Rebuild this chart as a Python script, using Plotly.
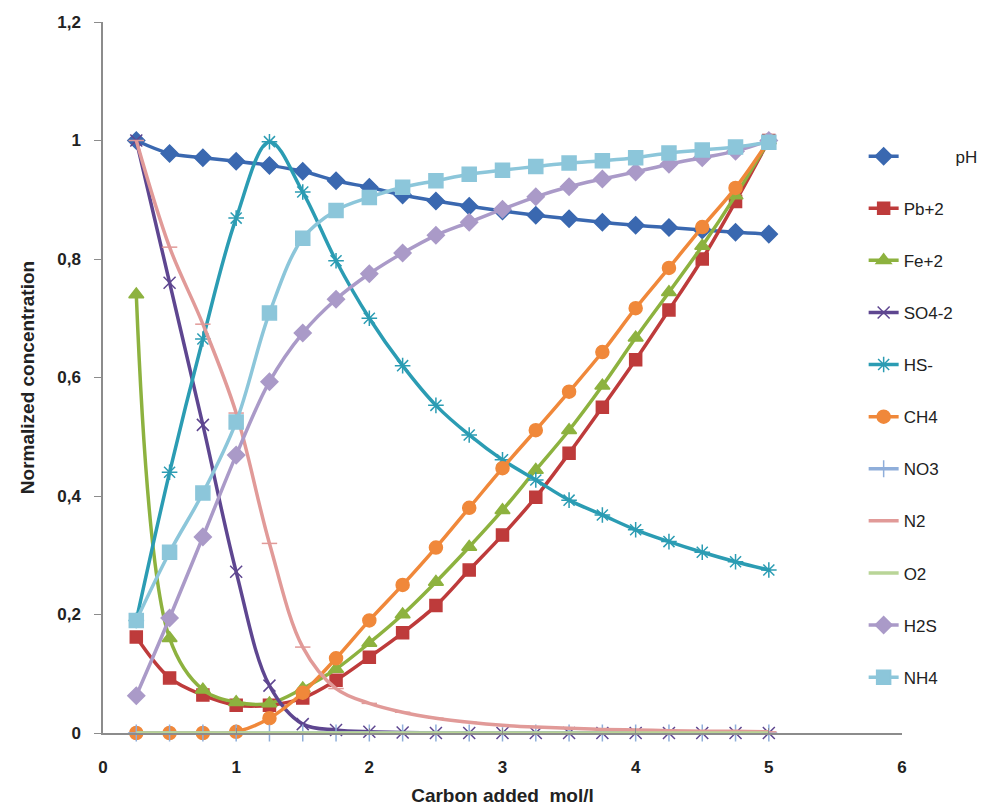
import plotly.graph_objects as go

carbon = [0.25, 0.5, 0.75, 1.0, 1.25, 1.5, 1.75, 2.0, 2.25, 2.5,
          2.75, 3.0, 3.25, 3.5, 3.75, 4.0, 4.25, 4.5, 4.75, 5.0]

ph = [1.0, 0.978, 0.971, 0.965, 0.958, 0.948, 0.932, 0.921, 0.908, 0.898,
      0.889, 0.881, 0.874, 0.868, 0.862, 0.857, 0.853, 0.849, 0.845, 0.842]
pb2 = [0.162, 0.093, 0.064, 0.047, 0.047, 0.059, 0.089, 0.128, 0.169, 0.215,
       0.275, 0.334, 0.398, 0.472, 0.55, 0.63, 0.714, 0.80, 0.897, 1.0]
fe2 = [0.74, 0.16, 0.073, 0.052, 0.05, 0.075, 0.108, 0.152, 0.2, 0.255,
       0.314, 0.376, 0.444, 0.511, 0.586, 0.667, 0.744, 0.822, 0.907, 1.0]
so4 = [1.0, 0.76, 0.52, 0.272, 0.08, 0.015, 0.005, 0.002, 0.001, 0.0,
       0.0, 0.0, 0.0, 0.0, 0.0, 0.0, 0.0, 0.0, 0.0, 0.0]
hs = [0.19, 0.44, 0.665, 0.869, 0.998, 0.913, 0.797, 0.70, 0.62, 0.553,
      0.503, 0.461, 0.427, 0.393, 0.368, 0.343, 0.323, 0.305, 0.289, 0.275]
ch4 = [0.0, 0.0, 0.0, 0.002, 0.025, 0.068, 0.126, 0.19, 0.25, 0.313,
       0.38, 0.447, 0.511, 0.576, 0.643, 0.717, 0.785, 0.854, 0.92, 1.0]
no3 = [0.0] * 20
n2 = [1.0, 0.82, 0.69, 0.54, 0.32, 0.145, 0.075, 0.05, 0.035, 0.025,
      0.018, 0.013, 0.01, 0.008, 0.006, 0.005, 0.004, 0.003, 0.003, 0.002]
o2 = [0.0] * 20
h2s = [0.063, 0.194, 0.331, 0.469, 0.593, 0.675, 0.732, 0.775, 0.81, 0.84,
       0.862, 0.884, 0.905, 0.922, 0.935, 0.947, 0.96, 0.971, 0.982, 1.0]
nh4 = [0.19, 0.305, 0.405, 0.525, 0.709, 0.835, 0.882, 0.904, 0.921, 0.932,
       0.943, 0.95, 0.956, 0.962, 0.966, 0.971, 0.979, 0.984, 0.989, 0.997]

series = [
    ("\u00a0" * 11 + "pH", ph, "#3A68B0", "diamond", 13),
    ("Pb+2", pb2, "#BE3B3B", "square", 12),
    ("Fe+2", fe2, "#8DB23F", "triangle-up", 13),
    ("SO4-2", so4, "#5E4690", "x-thin-open", 12),
    ("HS-", hs, "#2B9CB3", "asterisk-open", 13),
    ("CH4", ch4, "#F0883A", "circle", 13),
    ("NO3", no3, "#8FAEDA", "cross-thin-open", 12),
    ("N2", n2, "#E19A98", "line-ew-open", 11),
    ("O2", o2, "#B9D597", None, 0),
    ("H2S", h2s, "#AA9AC8", "diamond", 13),
    ("NH4", nh4, "#8CC6DA", "square", 14),
]

fig = go.Figure()
for i, (name, vals, color, sym, size) in enumerate(series):
    if sym is None:
        mode = "lines"
        marker = dict()
    else:
        mode = "lines+markers"
        marker = dict(symbol=sym, size=size, color=color,
                      line=dict(color=color, width=1.5))
    fig.add_trace(go.Scatter(
        x=carbon, y=vals, name=name, mode=mode,
        line=dict(color=color, width=3.5, shape="spline", smoothing=1.0),
        marker=marker, cliponaxis=False, legendgroup=str(i),
    ))

fig.update_layout(
    width=997, height=811,
    margin=dict(l=103, r=95, t=22, b=78),
    paper_bgcolor="white", plot_bgcolor="white",
    separators=",.",
    font=dict(family="Liberation Sans, Arial, sans-serif", size=16, color="#222222"),
    showlegend=True,
    legend=dict(x=0.952, y=0.836, xanchor="left", yanchor="top",
                font=dict(size=17, color="#222222"),
                tracegroupgap=27, bgcolor="rgba(0,0,0,0)"),
    xaxis=dict(range=[0, 6], tick0=0, dtick=1, showgrid=False, zeroline=False,
               showline=True, linecolor="#8C8C8C", linewidth=1.5,
               ticks="inside", ticklen=5, tickcolor="#8C8C8C",
               ticklabelstandoff=18, automargin=False,
               tickfont=dict(size=17, weight="bold"),
               title=dict(text="<b>Carbon added  mol/l</b>", standoff=13,
                          font=dict(size=19))),
    yaxis=dict(range=[0, 1.2], tick0=0, dtick=0.2, showgrid=False, zeroline=False,
               showline=True, linecolor="#8C8C8C", linewidth=1.5,
               ticks="outside", ticklen=7, tickcolor="#8C8C8C",
               ticklabelstandoff=10, automargin=False,
               tickfont=dict(size=17, weight="bold"),
               title=dict(text="<b>Normalized concentration</b>", standoff=18,
                          font=dict(size=19))),
)

fig.write_html("out.html")
